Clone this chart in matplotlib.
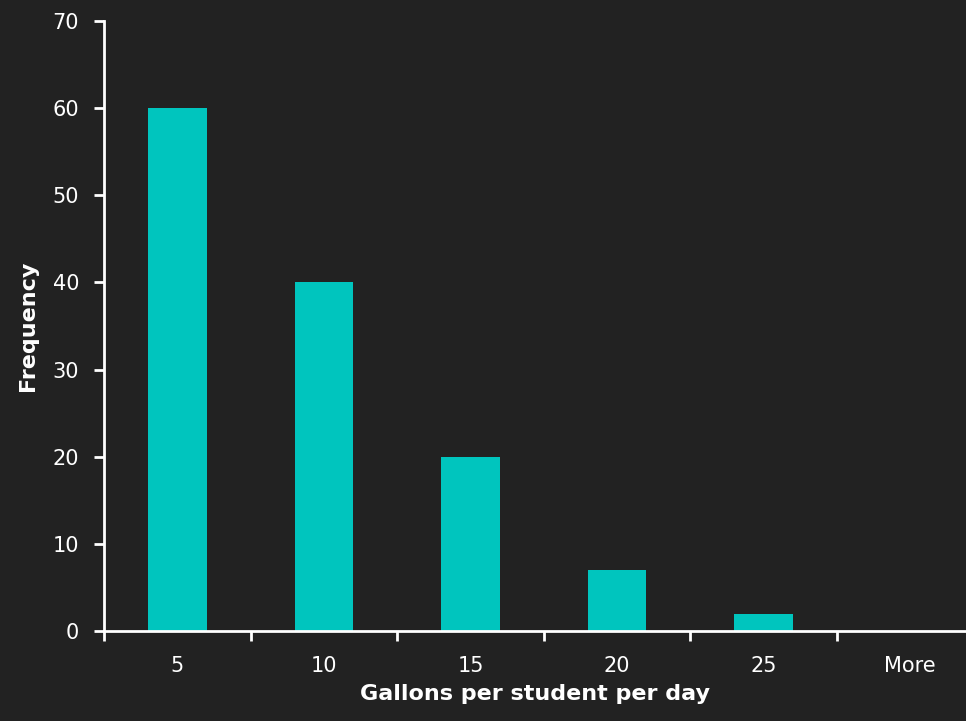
import matplotlib
matplotlib.use("Agg")
import matplotlib.pyplot as plt
import numpy as np

categories = ["5", "10", "15", "20", "25", "More"]
frequency = [60, 40, 20, 7, 2, 0]
y_ticks = [0, 10, 20, 30, 40, 50, 60, 70]

BG = "#222222"
BAR = "#00C5BE"
FG = "#FFFFFF"

plt.rcParams['font.family'] = ['DejaVu Sans']

fig = plt.figure(figsize=(9.66, 7.21), dpi=100, facecolor=BG)
ax = fig.add_axes([104/966, 1-631/721, 1-104/966, (631-21)/721])
ax.set_facecolor(BG)

x = np.arange(len(categories))
ax.bar(x, frequency, width=0.40, color=BAR, zorder=2)

ax.set_xlim(-0.5, -0.5 + 862/146.6)
ax.set_ylim(0, 70)

for s in ["top", "right"]:
    ax.spines[s].set_visible(False)
for s in ["left", "bottom"]:
    ax.spines[s].set_color(FG)
    ax.spines[s].set_linewidth(2)

ax.set_yticks(y_ticks)
ax.set_yticklabels([str(v) for v in y_ticks], fontsize=15, color=FG)
ax.tick_params(axis='y', length=7, width=2, color=FG, pad=11, direction='out')

ax.set_xticks(np.arange(len(categories)) - 0.5)
ax.set_xticklabels([])
ax.tick_params(axis='x', which='major', length=7, width=2, color=FG, direction='out')
ax.set_xticks(x, minor=True)
ax.set_xticklabels(categories, minor=True, fontsize=15, color=FG)
ax.tick_params(axis='x', which='minor', length=0, pad=18)

ax.set_xlabel("Gallons per student per day", fontsize=16, fontweight='bold', color=FG, labelpad=6)
ax.set_ylabel("Frequency", fontsize=16, fontweight='bold', color=FG, labelpad=10)

fig.savefig("out.png", dpi=100, facecolor=BG)
